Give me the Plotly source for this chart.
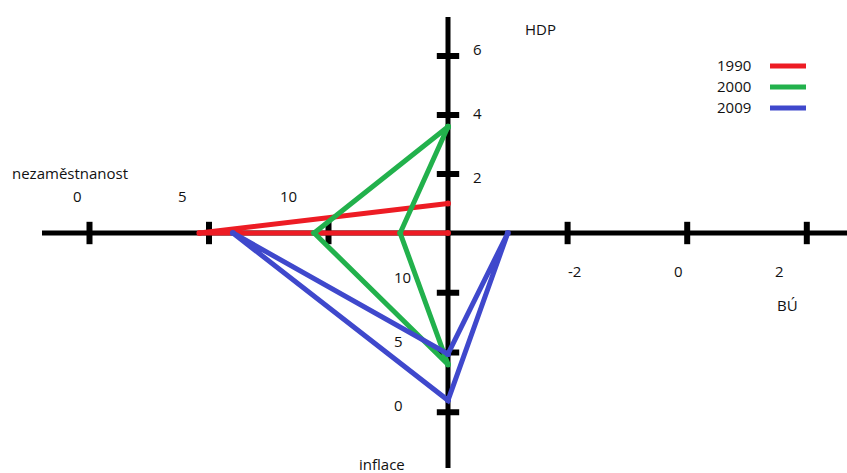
import plotly.graph_objects as go

# magický čtyřúhelník
YEARS = ['1990', '2000', '2009']
COLORS = ['#ED1C24', '#22B14C', '#3F48CC']
NEZAMESTNANOST = [4.6, 9.4, 6.0]
HDP = [1.0, 3.6, -4.1]
BU = [None, -4.8, -3.0]
INFLACE = [None, 4.0, 1.0]

NEZAM_TICKS = [0, 5, 10]
HDP_TICKS = [2, 4, 6]
BU_TICKS = [-2, 0, 2]
INFL_TICKS = [0, 5, 10]

W, H = 847, 473
CX, CY = 448, 233

# each axis: value at the centre, pixels per unit, direction (dx, dy)
SCALES = {
    'nezam': (15, 23.9, (-1, 0)),   # lower unemployment further left
    'hdp': (0, 29.5, (0, -1)),
    'bu': (-4, 59.8, (1, 0)),
    'infl': (15, 11.95, (0, 1)),    # lower inflation further down
}


def to_px(axis, value):
    """Map a value on one of the four axes to a pixel position."""
    centre, ppu, (dx, dy) = SCALES[axis]
    if value is None:
        return CX, CY
    d = (value - centre) * ppu
    if axis in ('nezam', 'infl'):
        d = -d
    return CX + dx * d, CY + dy * d


fig = go.Figure()

# axes
fig.add_trace(go.Scatter(x=[42, W, None, CX, CX], y=[CY, CY, None, 17, 468],
                         mode='lines', line=dict(color='black', width=5),
                         hoverinfo='skip', showlegend=False))

# tick marks
for axis, ticks, symbol in [('nezam', NEZAM_TICKS, 'line-ns'), ('bu', BU_TICKS, 'line-ns'),
                            ('hdp', HDP_TICKS, 'line-ew'), ('infl', INFL_TICKS, 'line-ew')]:
    pts = [to_px(axis, t) for t in ticks]
    fig.add_trace(go.Scatter(x=[p[0] for p in pts], y=[p[1] for p in pts], mode='markers',
                             marker=dict(symbol=symbol, size=16, line=dict(color='black', width=6)),
                             hoverinfo='skip', showlegend=False))

# series
for i, year in enumerate(YEARS):
    vals = [('hdp', HDP[i]), ('nezam', NEZAMESTNANOST[i]), ('infl', INFLACE[i]), ('bu', BU[i])]
    if any(v is None for _, v in vals):
        # missing data: line from HDP to unemployment and on to the centre
        pts = [to_px(a, v) for a, v in vals[:2]] + [(CX, CY)]
    else:
        pts = [to_px(a, v) for a, v in vals]
        pts.append(pts[0])
    fig.add_trace(go.Scatter(x=[p[0] for p in pts], y=[p[1] for p in pts], mode='lines+markers',
                             line=dict(color=COLORS[i], width=5),
                             marker=dict(color=COLORS[i], size=6),
                             name=year, hoverinfo='skip', showlegend=False))

FONT = dict(family='Open Sans', size=15, color='#111111')
annotations = []


def label(text, x, y):
    annotations.append(dict(text=text, x=x, y=y, xref='x', yref='y', showarrow=False,
                            font=FONT, xanchor='center', yanchor='middle'))


label('nezaměstnanost', 70, 173)
for t, x in zip(NEZAM_TICKS, [77, 182, 288]):
    label(str(t), x, 196)
label('HDP', 540, 29)
for t, y in zip(HDP_TICKS, [177, 113, 49]):
    label(str(t), 477, y)
for t, x in zip(BU_TICKS, [574, 678, 779]):
    label(str(t), x, 271)
label('BÚ', 787, 305)
for t, y in zip(INFL_TICKS, [405, 341, 277]):
    label(str(t), 398 if t < 10 else 402, y)
label('inflace', 382, 464)

# legend (text first, line after)
shapes = []
for i, (year, y) in enumerate(zip(YEARS, [65, 86, 107])):
    label(year, 734, y)
    shapes.append(dict(type='line', xref='x', yref='y', x0=770, x1=806, y0=y + 1, y1=y + 1,
                       line=dict(color=COLORS[i], width=5)))

fig.update_layout(
    width=W, height=H, margin=dict(l=0, r=0, t=0, b=0),
    paper_bgcolor='white', plot_bgcolor='white',
    xaxis=dict(range=[0, W], visible=False, fixedrange=True),
    yaxis=dict(range=[H, 0], visible=False, fixedrange=True),
    annotations=annotations, shapes=shapes, showlegend=False,
)

# the page's default body margin would shift the picture by 8px
fig.write_html("out.html", config={'displayModeBar': False},
               post_script="document.body.style.margin = '0';")
